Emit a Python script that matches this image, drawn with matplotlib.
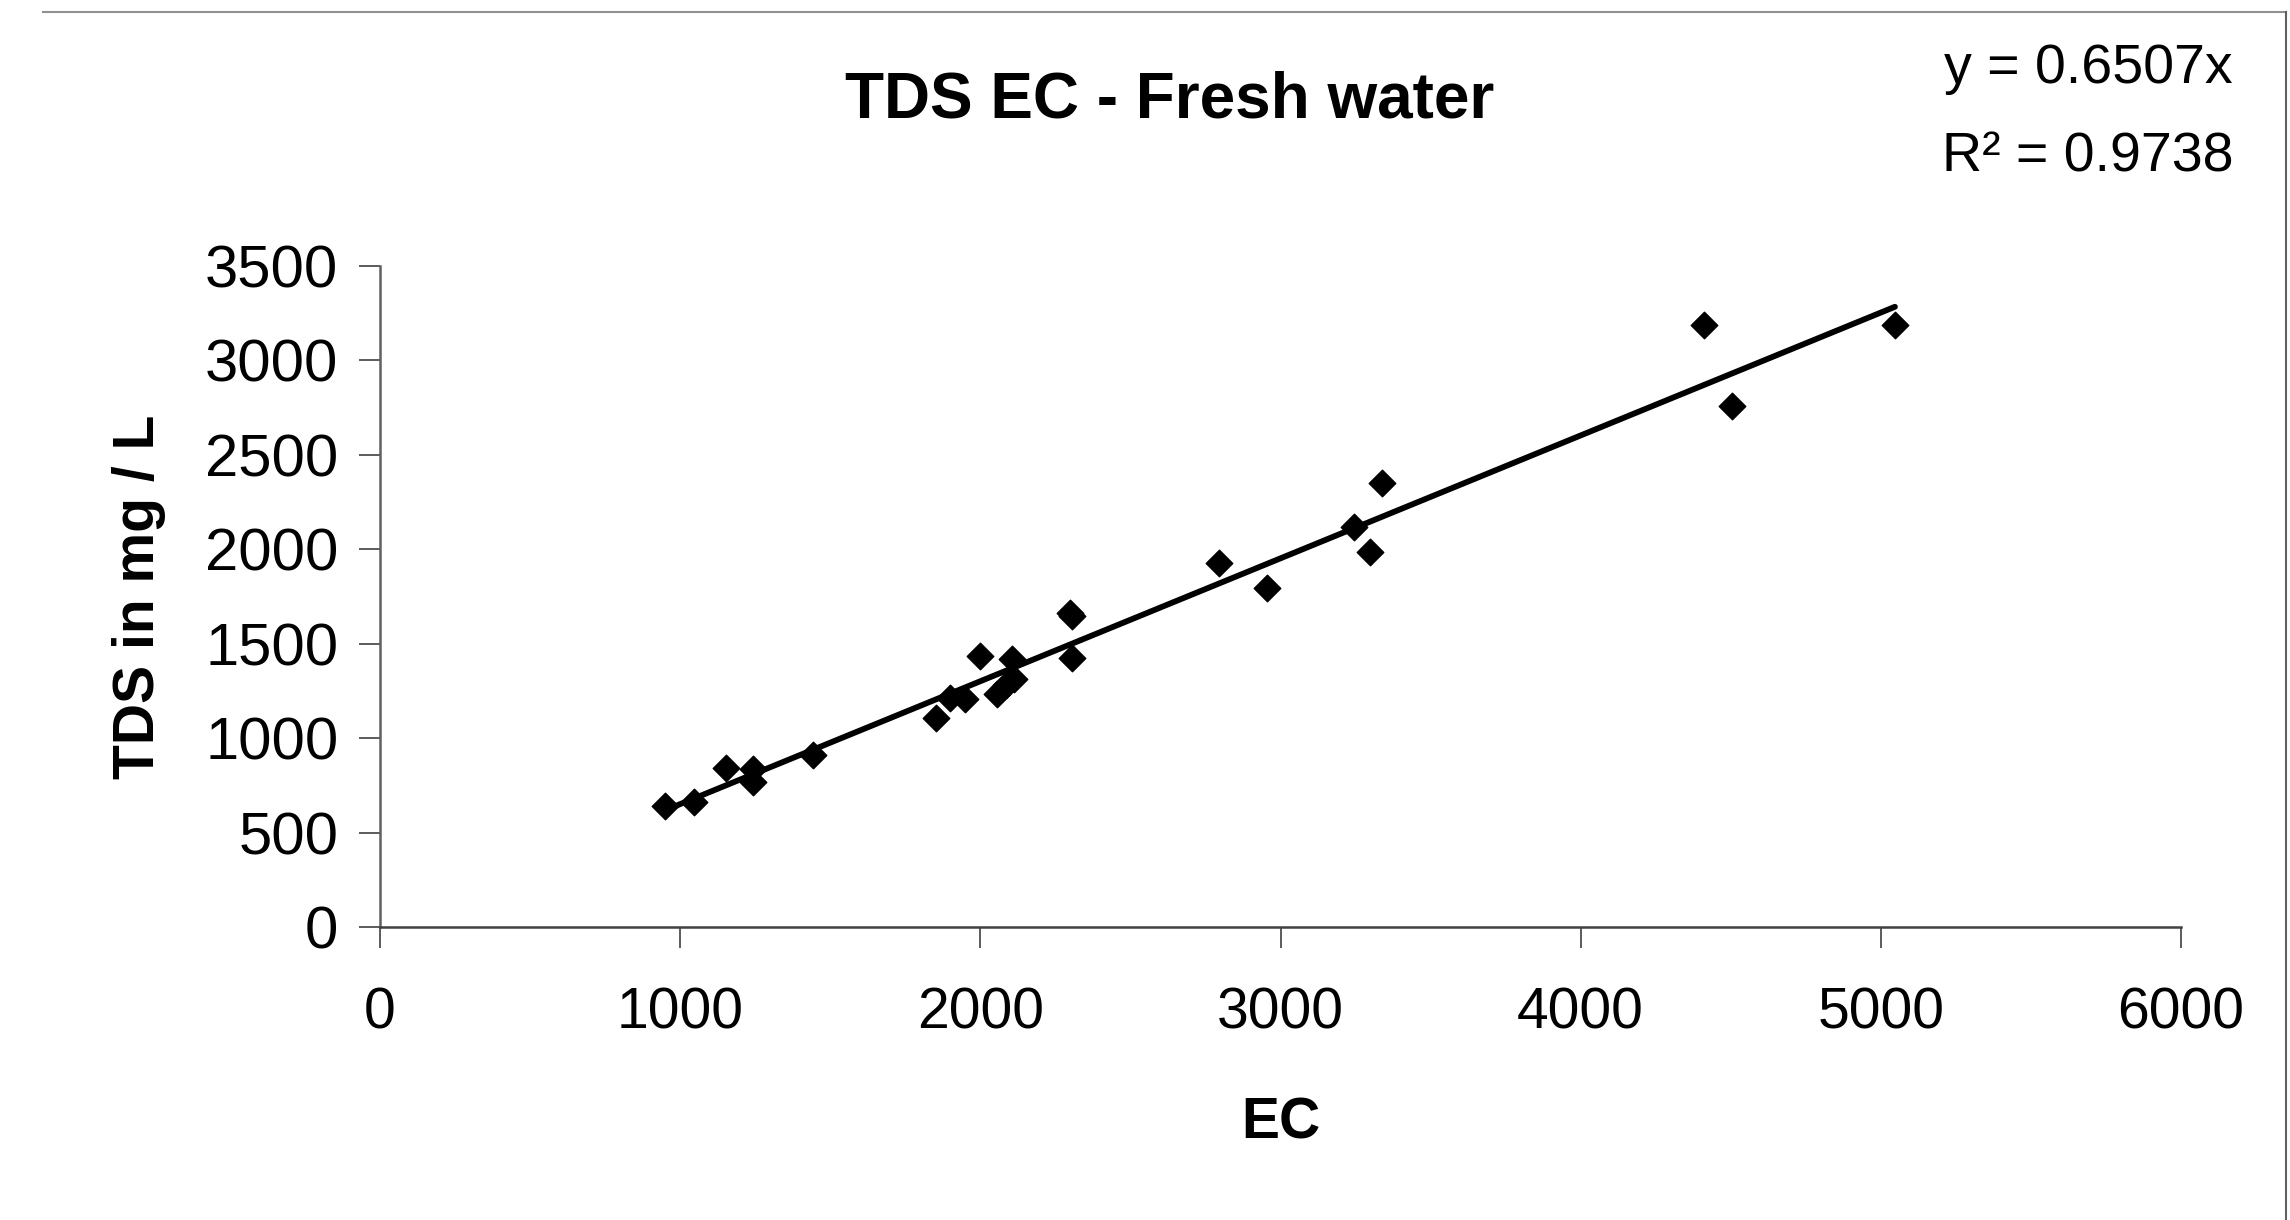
import matplotlib
matplotlib.use("Agg")
import matplotlib.pyplot as plt
from matplotlib.lines import Line2D

plt.rcParams['font.family'] = ['Liberation Sans', 'DejaVu Sans']

# Data
ec = [950, 1047, 1152, 1244, 1244, 1443, 1852, 1900, 1948, 2000, 2055, 2085,
      2112, 2105, 2300, 2305, 2304, 2795, 2954, 3245, 3298, 3337, 4411, 4503, 5047]
tds = [640, 660, 843, 835, 769, 910, 1107, 1215, 1205, 1435, 1235, 1280,
       1315, 1420, 1665, 1648, 1425, 1929, 1796, 2116, 1987, 2352, 3187, 2758, 3187]
slope = 0.6507
r2 = 0.9738
x_ticks = [0, 1000, 2000, 3000, 4000, 5000, 6000]
y_ticks = [0, 500, 1000, 1500, 2000, 2500, 3000, 3500]

fig = plt.figure(figsize=(22.9, 12.2), dpi=100)
ax = fig.add_axes([380/2290, 1-927/1220, (2181-380)/2290, (927-266)/1220])

ax.scatter(ec, tds, marker='D', s=13.5**2, color='black', edgecolors='black',
           linewidths=1, zorder=3)
xmin, xmax = min(ec), max(ec)
ax.plot([xmin, xmax], [slope*xmin, slope*xmax], color='black', lw=4.2,
        solid_capstyle='round', zorder=2)

ax.set_xlim(x_ticks[0], x_ticks[-1])
ax.set_ylim(y_ticks[0], y_ticks[-1])
ax.set_xticks(x_ticks)
ax.set_yticks(y_ticks)
ax.tick_params(axis='both', direction='out', length=15, width=1.2, colors='#404040',
               labelcolor='black')
ax.tick_params(axis='x', pad=28, labelsize=41)
ax.tick_params(axis='y', pad=15, labelsize=43)
for s in ['top', 'right']:
    ax.spines[s].set_visible(False)
ax.spines['left'].set_color('#606060')
ax.spines['bottom'].set_color('#404040')
ax.spines['left'].set_linewidth(1.8)
ax.spines['bottom'].set_linewidth(1.8)

ax.set_xlabel('EC', fontsize=41, fontweight='bold', labelpad=40)
ax.set_ylabel('TDS in mg / L', fontsize=41, fontweight='bold', labelpad=28)

fig.text(1170/2290, 1-117/1220, 'TDS EC - Fresh water', fontsize=46,
         fontweight='bold', ha='center', va='baseline')
fig.text(2233/2290, 1-83/1220, f'y = {slope}x', fontsize=40, ha='right', va='baseline')
fig.text(2233/2290, 1-171/1220, f'R² = {r2}', fontsize=40, ha='right', va='baseline')

# chart area border (partially visible)
fig.add_artist(Line2D([43/2290, 2286/2290], [1-12/1220, 1-12/1220],
                      transform=fig.transFigure, color='#909090', lw=1.5))
fig.add_artist(Line2D([2286/2290, 2286/2290], [1-12/1220, 0],
                      transform=fig.transFigure, color='#606060', lw=1.5))

fig.savefig('out.png', dpi=100, facecolor='white')
